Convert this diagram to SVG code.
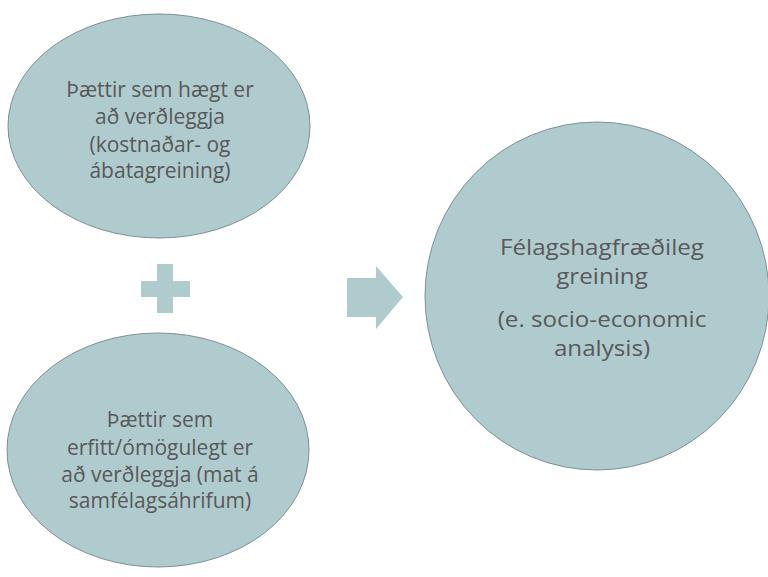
<svg xmlns="http://www.w3.org/2000/svg" width="768" height="577" viewBox="0 0 768 577">
<style>
.node{fill:#afcbce;stroke:#7d9194;stroke-width:1}
.sym{fill:#afcbce}
text{font-family:"Open Sans","Noto Sans",sans-serif;fill:#595959;text-anchor:middle}
.t1{font-size:21px}
.t2{font-size:22px}
</style>
<rect width="768" height="577" fill="#ffffff"/>
<g id="node-top">
<ellipse class="node" cx="159" cy="126" rx="151" ry="112"/>
<text class="t1"><tspan x="160" y="97">Þættir sem hægt er</tspan><tspan x="160" y="124">að verðleggja</tspan><tspan x="160" y="152">(kostnaðar- og</tspan><tspan x="160" y="178">ábatagreining)</tspan></text>
</g>
<g id="node-bottom">
<ellipse class="node" cx="158" cy="450" rx="151" ry="117"/>
<text class="t1"><tspan x="160" y="427">Þættir sem</tspan><tspan x="160" y="455">erfitt/ómögulegt er</tspan><tspan x="160" y="482">að verðleggja (mat á</tspan><tspan x="160" y="508">samfélagsáhrifum)</tspan></text>
</g>
<g id="node-right">
<ellipse class="node" cx="597" cy="296" rx="172" ry="174"/>
<text class="t2" transform="translate(602 0) scale(1.1 1) translate(-602 0)"><tspan x="602" y="255">Félagshagfræðileg</tspan><tspan x="602" y="284">greining</tspan><tspan x="602" y="327">(e. socio-economic</tspan><tspan x="602" y="356">analysis)</tspan></text>
</g>
<g id="connectors">
<path id="plus" class="sym" d="M157 264H173V281H190V297H173V313H157V297H141V281H157Z"/>
<path id="arrow" class="sym" d="M347 278H376V266L403 297L376 329V317H347Z"/>
</g>
</svg>
